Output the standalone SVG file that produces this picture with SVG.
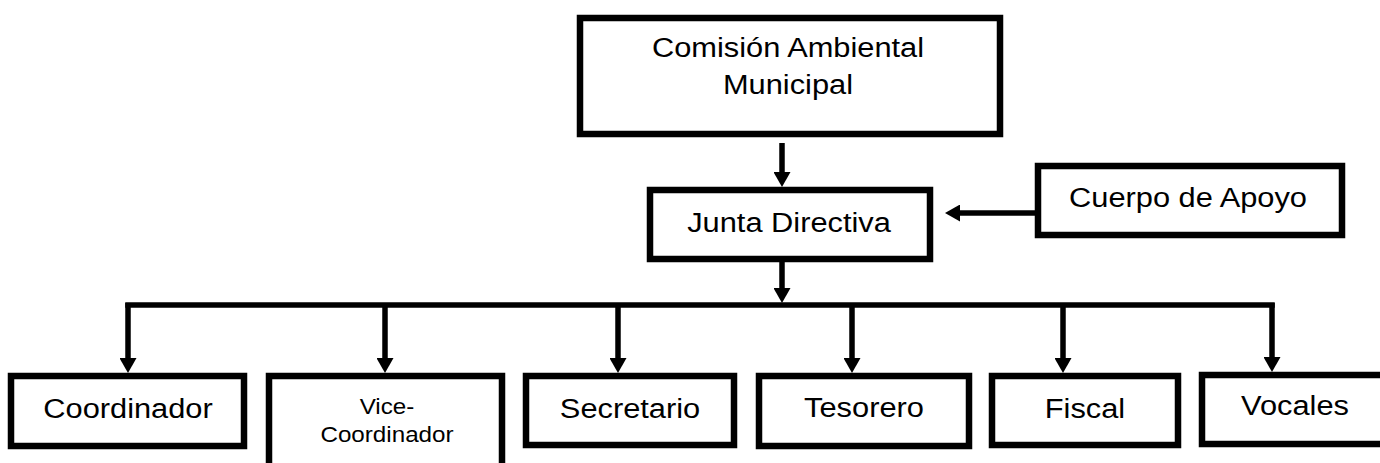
<svg xmlns="http://www.w3.org/2000/svg" width="1380" height="463" viewBox="0 0 1380 463">
<style>
.box{fill:#fff;stroke:#000;stroke-width:6.5}
.lbl{font-family:"Liberation Sans",Arial,sans-serif;font-size:28px;fill:#000;text-anchor:middle}
.sm{font-size:22px}
.con{stroke:#000;stroke-width:5.5;fill:none}
</style>
<defs>
<marker id="ah" viewBox="0 0 15 17" refX="9" refY="8.5" markerWidth="15" markerHeight="17" markerUnits="userSpaceOnUse" orient="auto">
<path d="M0,0 L15,8.5 L0,17 z" fill="#000"/>
</marker>
</defs>
<g id="connectors">
<line class="con" x1="782" y1="143" x2="782" y2="181" marker-end="url(#ah)"/>
<line class="con" x1="782" y1="262" x2="782" y2="297" marker-end="url(#ah)"/>
<line class="con" x1="1036" y1="213" x2="951" y2="213" marker-end="url(#ah)"/>
<line class="con" x1="125.25" y1="305" x2="1274.75" y2="305"/>
<line class="con" x1="128" y1="303" x2="128" y2="367" marker-end="url(#ah)"/>
<line class="con" x1="385" y1="305" x2="385" y2="367" marker-end="url(#ah)"/>
<line class="con" x1="618" y1="305" x2="618" y2="367" marker-end="url(#ah)"/>
<line class="con" x1="852" y1="305" x2="852" y2="367" marker-end="url(#ah)"/>
<line class="con" x1="1063" y1="305" x2="1063" y2="367" marker-end="url(#ah)"/>
<line class="con" x1="1272" y1="303" x2="1272" y2="366" marker-end="url(#ah)"/>
</g>
<g id="comision">
<rect class="box" x="580" y="18" width="420" height="116"/>
<text class="lbl" transform="translate(788 57) scale(1.1 1)">Comisión Ambiental</text>
<text class="lbl" transform="translate(788 94) scale(1.1 1)">Municipal</text>
</g>
<g id="junta">
<rect class="box" x="650" y="190" width="280" height="69"/>
<text class="lbl" transform="translate(789 232) scale(1.1 1)">Junta Directiva</text>
</g>
<g id="cuerpo">
<rect class="box" x="1038" y="166" width="304" height="69"/>
<text class="lbl" transform="translate(1188 207) scale(1.1 1)">Cuerpo de Apoyo</text>
</g>
<g id="coordinador">
<rect class="box" x="11" y="376" width="233" height="70"/>
<text class="lbl" transform="translate(128 418) scale(1.1 1)">Coordinador</text>
</g>
<g id="vicecoordinador">
<rect class="box" x="269" y="376" width="233" height="110"/>
<text class="lbl sm" transform="translate(387 414) scale(1.1 1)">Vice-</text>
<text class="lbl sm" transform="translate(387 442) scale(1.1 1)">Coordinador</text>
</g>
<g id="secretario">
<rect class="box" x="526" y="376" width="208" height="69"/>
<text class="lbl" transform="translate(630 418) scale(1.1 1)">Secretario</text>
</g>
<g id="tesorero">
<rect class="box" x="759" y="376" width="210" height="70"/>
<text class="lbl" transform="translate(864 417) scale(1.1 1)">Tesorero</text>
</g>
<g id="fiscal">
<rect class="box" x="992" y="376" width="186" height="69"/>
<text class="lbl" transform="translate(1085 418) scale(1.1 1)">Fiscal</text>
</g>
<g id="vocales">
<rect class="box" x="1202" y="375" width="190" height="69"/>
<text class="lbl" transform="translate(1295 415) scale(1.1 1)">Vocales</text>
</g>
</svg>
